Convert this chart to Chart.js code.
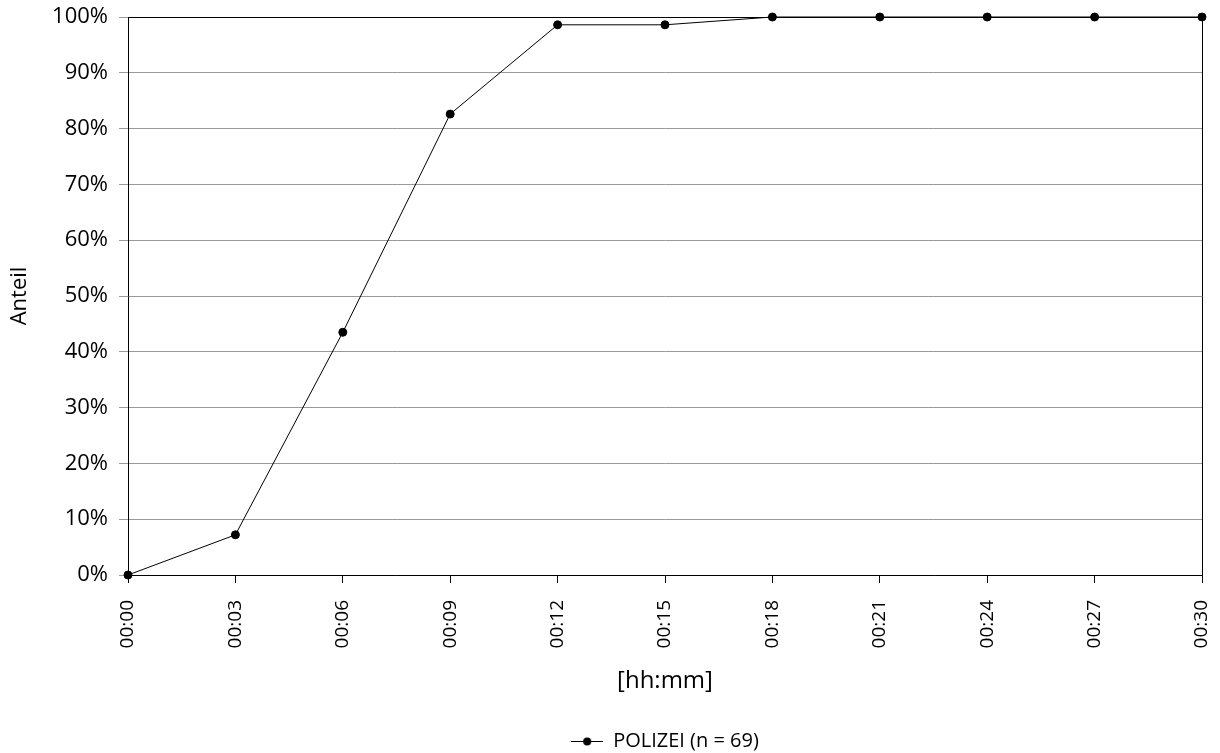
<!DOCTYPE html>
<html>
<head>
<meta charset="utf-8">
<script src="https://cdn.jsdelivr.net/npm/chart.js@4.4.1/dist/chart.umd.min.js"></script>
<style>
html,body{margin:0;padding:0;background:#fff;}
#wrap{width:1220px;height:753px;position:relative;}
</style>
</head>
<body>
<div id="wrap"><canvas id="c" width="1220" height="753"></canvas></div>
<script>
const categories = ["00:00","00:03","00:06","00:09","00:12","00:15","00:18","00:21","00:24","00:27","00:30"];
const seriesName = "POLIZEI (n = 69)";
const seriesValues = [0, 7.2, 43.5, 82.6, 98.6, 98.6, 100, 100, 100, 100, 100];
const yTicks = [0,10,20,30,40,50,60,70,80,90,100];
const xTitle = "[hh:mm]";
const yTitle = "Anteil";

const FONT = "'Open Sans', 'DejaVu Sans', sans-serif";

function legendIcon(){
  const cv = document.createElement('canvas');
  cv.width = 32; cv.height = 12;
  const g = cv.getContext('2d');
  g.strokeStyle = '#000'; g.lineWidth = 1;
  g.beginPath(); g.moveTo(0,6.5); g.lineTo(32,6.5); g.stroke();
  g.fillStyle = '#000';
  g.beginPath(); g.arc(16,6.5,4,0,Math.PI*2); g.fill();
  return cv;
}

const borderPlugin = {
  id:'plotBorder',
  afterLayout(chart){
    const lg = chart.legend, a = chart.chartArea;
    if (lg){
      lg.left = a.left; lg.right = a.right; lg.width = a.right - a.left;
      lg.top += 8; lg.bottom += 8;
    }
  },
  afterDatasetsDraw(chart){
    const {ctx, chartArea:a} = chart;
    ctx.save();
    ctx.strokeStyle = '#000'; ctx.lineWidth = 1;
    ctx.beginPath();
    ctx.moveTo(a.left+0.5, a.top+0.5);
    ctx.lineTo(a.right+0.5, a.top+0.5);
    ctx.lineTo(a.right+0.5, a.bottom+0.5);
    ctx.stroke();
    ctx.restore();
  }
};

const icon = legendIcon();

new Chart(document.getElementById('c'), {
  type:'line',
  data:{
    labels: categories,
    datasets:[{
      label: seriesName,
      data: seriesValues,
      borderColor:'#000',
      backgroundColor:'#000',
      borderWidth:1,
      pointRadius:4,
      pointHoverRadius:4,
      pointBackgroundColor:'#000',
      pointBorderColor:'#000',
      tension:0,
      clip:false
    }]
  },
  options:{
    responsive:false,
    animation:false,
    devicePixelRatio:1,
    layout:{autoPadding:false, padding:{left:0,right:18,top:17,bottom:0}},
    plugins:{
      legend:{
        position:'bottom',
        labels:{
          color:'#000',
          font:{family:FONT,size:20},
          usePointStyle:true,
          pointStyleWidth:32,
          padding:4,
          generateLabels(chart){
            return [{text:seriesName, pointStyle:icon, fillStyle:'#000', strokeStyle:'#000', lineWidth:0, datasetIndex:0, fontColor:'#000'}];
          }
        }
      },
      tooltip:{enabled:false}
    },
    scales:{
      x:{
        type:'category',
        offset:false,
        grid:{drawOnChartArea:false, drawTicks:true, tickLength:8, color:'#000'},
        border:{color:'#000', width:1},
        ticks:{color:'#000', font:{family:FONT,size:19}, minRotation:90, maxRotation:90, padding:17, autoSkip:false},
        title:{display:true, text:xTitle, color:'#000', font:{family:FONT,size:24}, padding:{top:0,bottom:23}},
        afterFit(s){ s.height = 144; s.paddingLeft = 0; s.paddingRight = 0; s.paddingTop = 0; s.paddingBottom = 0; }
      },
      y:{
        min:0, max:100,
        afterBuildTicks(s){ s.ticks = yTicks.map(v=>({value:v})); },
        grid:{color:'#999', tickLength:9, drawTicks:true},
        border:{color:'#000', width:1},
        ticks:{color:'#000', font:{family:FONT,size:22}, padding:11, callback:v=>v+'%'},
        title:{display:true, text:yTitle, color:'#000', font:{family:FONT,size:22}, padding:{top:7,bottom:0}},
        afterFit(s){ s.width = 128; s.paddingLeft = 0; s.paddingRight = 0; s.paddingTop = 0; s.paddingBottom = 0; }
      }
    }
  },
  plugins:[borderPlugin]
});
</script>
</body>
</html>
